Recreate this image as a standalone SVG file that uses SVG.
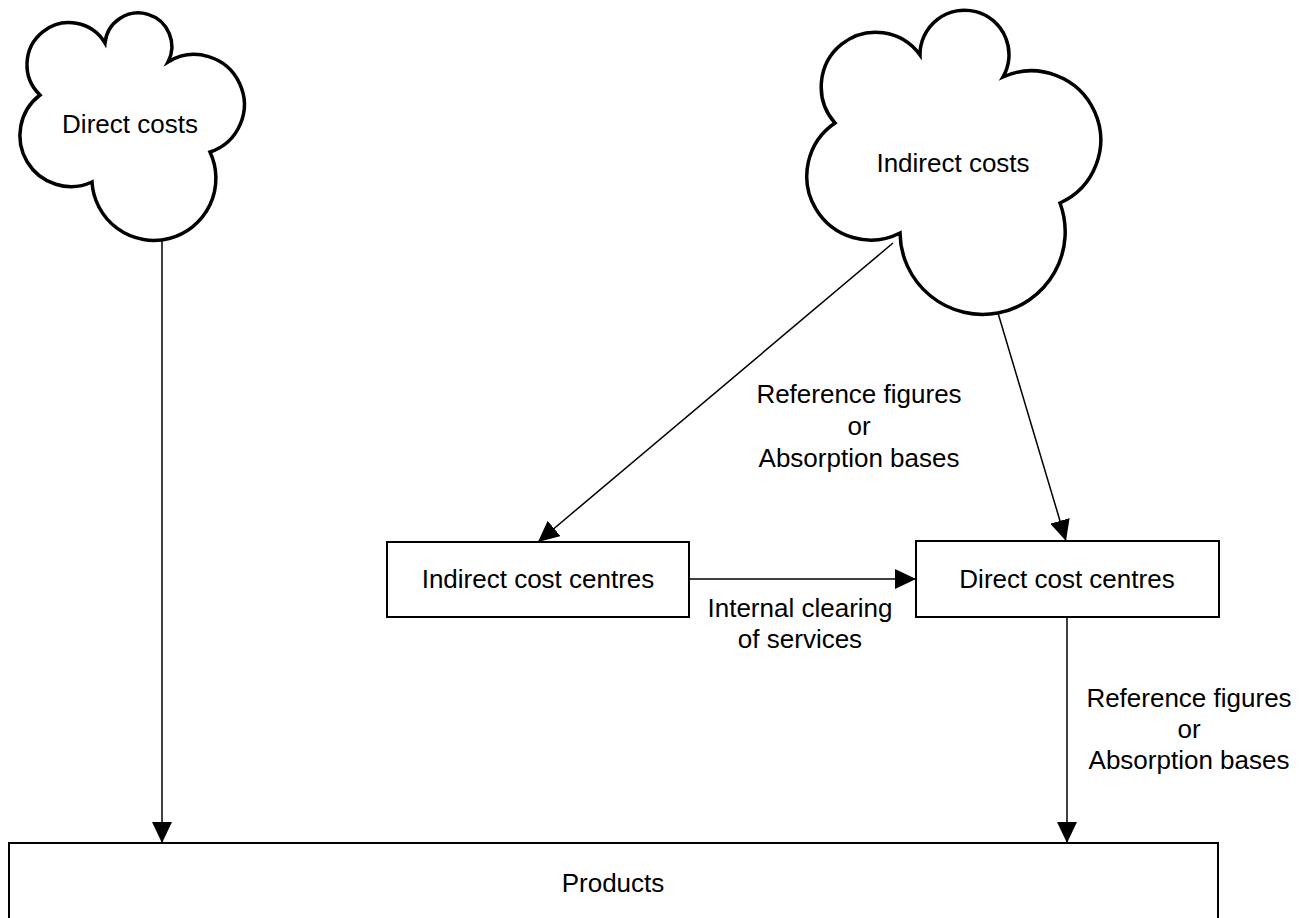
<svg xmlns="http://www.w3.org/2000/svg" width="1310" height="918" viewBox="0 0 1310 918">
<style>
.cloud{fill:#fff;stroke:#000;stroke-width:3.5;stroke-linejoin:miter}
.box{fill:#fff;stroke:#000;stroke-width:2}
.conn{fill:none;stroke:#000;stroke-width:1.5}
text{font-family:"Liberation Sans",Arial,sans-serif;font-size:26px;fill:#000;text-anchor:middle}
</style>
<defs>
<marker id="ah" markerUnits="userSpaceOnUse" markerWidth="21" markerHeight="20" refX="21" refY="10" orient="auto" viewBox="0 0 21 20">
<path d="M0,0 L21,10 L0,20 z" fill="#000"/>
</marker>
</defs>
<rect width="1310" height="918" fill="#fff"/>
<g id="connectors">
<line class="conn" x1="162" y1="241" x2="162" y2="843" marker-end="url(#ah)"/>
<line class="conn" x1="893" y1="243" x2="538" y2="542" marker-end="url(#ah)"/>
<line class="conn" x1="998" y1="313" x2="1066" y2="541" marker-end="url(#ah)"/>
<line class="conn" x1="689" y1="579" x2="916" y2="579" marker-end="url(#ah)"/>
<line class="conn" x1="1067" y1="617" x2="1067" y2="843" marker-end="url(#ah)"/>
</g>
<g id="direct-costs">
<path class="cloud" d="M40,95 A42,42 0 1 1 105,43 A33.5,33.5 0 1 1 168,62 A50,50 0 1 1 210,152 A62,62 0 1 1 92,182 A51,51 0 0 1 40,95 Z"/>
<text x="130" y="133">Direct costs</text>
</g>
<g id="indirect-costs">
<path class="cloud" d="M835,123 A54.5,54.5 0 1 1 920,55 A44.5,44.5 0 1 1 1003,77 A69,69 0 1 1 1060,203 A82.6,82.6 0 1 1 900,233 A64,64 0 0 1 835,123 Z"/>
<text x="953" y="172">Indirect costs</text>
</g>
<g id="indirect-cost-centres">
<rect class="box" x="387" y="542" width="302" height="75"/>
<text x="538" y="588">Indirect cost centres</text>
</g>
<g id="direct-cost-centres">
<rect class="box" x="916" y="541" width="303" height="76"/>
<text x="1067" y="588">Direct cost centres</text>
</g>
<g id="products">
<rect class="box" x="9" y="843" width="1209" height="90"/>
<text x="613" y="892">Products</text>
</g>
<g id="labels">
<text x="859" y="403">Reference figures</text>
<text x="859" y="435">or</text>
<text x="859" y="467">Absorption bases</text>
<text x="800" y="617">Internal clearing</text>
<text x="800" y="648">of services</text>
<text x="1189" y="707">Reference figures</text>
<text x="1189" y="738">or</text>
<text x="1189" y="769">Absorption bases</text>
</g>
</svg>
